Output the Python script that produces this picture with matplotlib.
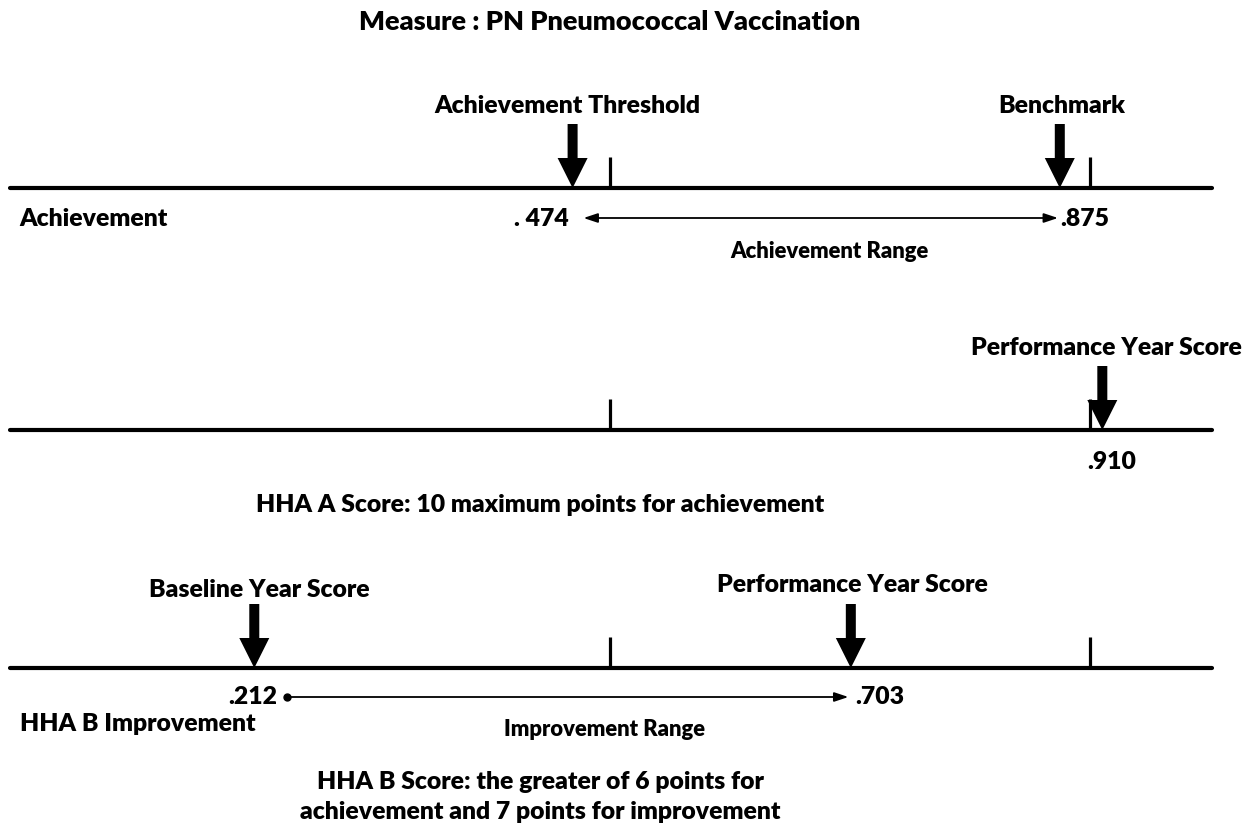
import matplotlib
matplotlib.use("Agg")
import matplotlib.pyplot as plt

# ---- data ----
title = "Measure : PN Pneumococcal Vaccination"
achievement_threshold = 0.474
benchmark = 0.875
perf_score_a = 0.910
baseline_score_b = 0.212
perf_score_b = 0.703
value_labels = {"threshold": ". 474", "benchmark": ".875", "perf_a": ".910",
                "baseline_b": ".212", "perf_b": ".703"}
tick_values = [0.505, 0.900]   # reference tick marks on each scale line
row_labels = ["Achievement", "HHA B Improvement"]
score_a_text = "HHA A Score: 10 maximum points for achievement"
score_b_text = "HHA B Score: the greater of 6 points for\nachievement and 7 points for improvement"

# ---- figure ----
W, H = 1252, 834
fig = plt.figure(figsize=(W / 100, H / 100), dpi=100)
ax = fig.add_axes([0, 0, 1, 1])
# x axis in score units, y axis in layout units (pixels from top)
ax.set_xlim(0.0027, 1.0332)
ax.set_ylim(H, 0)
ax.axis("off")

FONT = "Lato"
FW = "heavy"
BIG = 17.8
MED = 17.8
SMALL = 15.8

x_left, x_right = 0.0108, 1.0004  # line extents in score units
line_ys = [188, 430, 668]
for y in line_ys:
    ax.plot([x_left, x_right], [y, y], color="black", lw=3, solid_capstyle="round")
    for tv in tick_values:
        ax.plot([tv, tv], [y, y - 31], color="black", lw=2.3, solid_capstyle="butt")


def down_arrow(x, y_tip):
    ax.annotate("", xy=(x, y_tip), xytext=(x, y_tip - 64),
                arrowprops=dict(arrowstyle="simple,head_length=0.54,head_width=0.54,tail_width=0.18",
                                mutation_scale=40, color="black", shrinkA=0, shrinkB=0, lw=0))


def txt(x, y, s, size=MED, ha="center", **kw):
    ax.text(x, y, s, fontsize=size, fontweight=FW, family=FONT, ha=ha, va="center", **kw)


# title
txt(0.5048, 22, title, size=19.5)

# Row 1: Achievement
down_arrow(achievement_threshold, line_ys[0])
down_arrow(benchmark, line_ys[0])
txt(achievement_threshold - 0.0046, 106, "Achievement Threshold", size=BIG)
txt(benchmark + 0.0018, 106, "Benchmark", size=BIG)
txt(0.019, 219, row_labels[0], size=MED, ha="left")
txt(achievement_threshold - 0.003, 219, value_labels["threshold"], size=MED, ha="right")
txt(benchmark + 0.0, 219, value_labels["benchmark"], size=MED, ha="left")
ax.annotate("", xy=(achievement_threshold + 0.009, 218), xytext=(benchmark - 0.0015, 218),
            arrowprops=dict(arrowstyle="<|-|>,head_length=0.6,head_width=0.2", lw=1.3,
                            color="black", shrinkA=0, shrinkB=0, mutation_scale=14))
txt((achievement_threshold + benchmark) / 2 + 0.0105, 251, "Achievement Range", size=SMALL)

# Row 2: Performance (A)
down_arrow(perf_score_a, line_ys[1])
txt(perf_score_a + 0.0038, 348, "Performance Year Score", size=BIG)
txt(perf_score_a + 0.0079, 462, value_labels["perf_a"], size=MED)
txt(0.4472, 505, score_a_text, size=MED)

# Row 3: Improvement (B)
down_arrow(baseline_score_b, line_ys[2])
down_arrow(perf_score_b, line_ys[2])
txt(baseline_score_b + 0.0039, 590, "Baseline Year Score", size=BIG)
txt(perf_score_b + 0.0014, 585, "Performance Year Score", size=BIG)
txt(baseline_score_b + 0.0185, 697, value_labels["baseline_b"], size=MED, ha="right")
ax.plot([baseline_score_b + 0.027], [697], "o", color="black", ms=5)
ax.annotate("", xy=(perf_score_b - 0.002, 697), xytext=(baseline_score_b + 0.027, 697),
            arrowprops=dict(arrowstyle="-|>,head_length=0.6,head_width=0.2", lw=1.3,
                            color="black", shrinkA=0, shrinkB=0, mutation_scale=14))
txt(perf_score_b + 0.0035, 697, value_labels["perf_b"], size=MED, ha="left")
txt(0.019, 724, row_labels[1], size=MED, ha="left")
txt((baseline_score_b + perf_score_b) / 2 + 0.0427, 729, "Improvement Range", size=SMALL)
ax.text(0.4472, 797, score_b_text, fontsize=MED, fontweight=FW, family=FONT,
        ha="center", va="center", linespacing=1.4)

fig.savefig("out.png", dpi=100, facecolor="white")
